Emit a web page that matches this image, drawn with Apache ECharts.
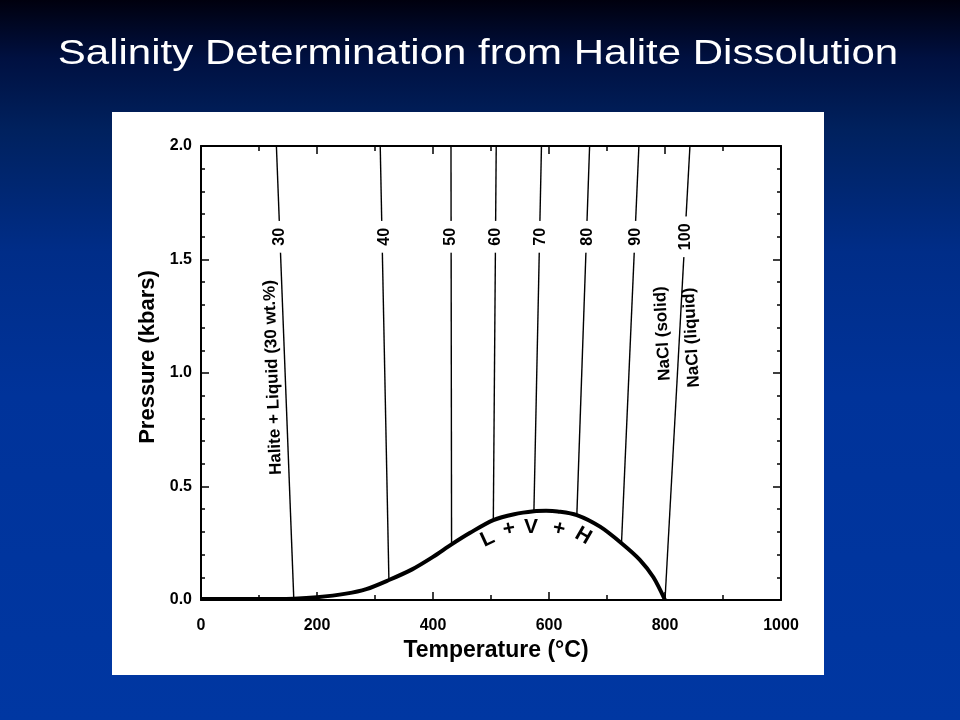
<!DOCTYPE html>
<html>
<head>
<meta charset="utf-8">
<script src="https://cdn.jsdelivr.net/npm/echarts@6/dist/echarts.min.js"></script>
<style>
html,body{margin:0;padding:0;background:#00339a;}
#chart{width:960px;height:720px;}
</style>
</head>
<body>
<div id="chart"></div>
<script>
// ---- data ----
var titleText = 'Salinity Determination from Halite Dissolution';
var xAxisName = 'Temperature (°C)';
var yAxisName = 'Pressure (kbars)';

// L + V + H curve (temperature °C, pressure kbar)
var curveT = [0, 100, 160, 200, 250, 285, 324, 364, 400, 432, 464, 504, 540, 574, 595, 615, 648, 688, 725, 757, 780, 800];
var curveP = [0.004, 0.004, 0.006, 0.012, 0.028, 0.048, 0.088, 0.135, 0.19, 0.245, 0.296, 0.352, 0.378, 0.391, 0.393, 0.39, 0.374, 0.323, 0.25, 0.176, 0.1, 0.0];

// halite dissolution isopleths (wt.% NaCl)
var isoWt      = [30, 40, 50, 60, 70, 80, 90, 100];
var isoBottomT = [160, 324, 432, 504, 574, 648, 725, 800];
var isoBottomP = [0.005, 0.088, 0.245, 0.352, 0.391, 0.374, 0.25, 0.0];
var isoTopT    = [130, 309, 431, 509, 587, 670, 755, 843];
var isoTopP    = [2.0, 2.0, 2.0, 2.0, 2.0, 2.0, 2.0, 2.0];
var isoLabelT  = [136, 316, 431, 508, 585, 666, 749, 835];
var isoLabelP  = [1.6, 1.6, 1.6, 1.6, 1.6, 1.6, 1.6, 1.6];

// text annotations
var annoText = ['Halite + Liquid (30 wt.%)', 'NaCl (solid)', 'NaCl (liquid)'];
var annoT    = [124, 796, 846];
var annoP    = [0.98, 1.174, 1.156];

var lvhText = ['L', '+', 'V', '+', 'H'];
var lvhT    = [494, 531, 569, 617, 659];
var lvhP    = [0.269, 0.313, 0.322, 0.313, 0.282];

// ---- chart ----
var FONT = '"Liberation Sans", Arial, Helvetica, sans-serif';
var chart = echarts.init(document.getElementById('chart'), null, {renderer: 'canvas'});

var series = [];
series.push({
  type: 'line',
  name: 'L+V+H',
  data: curveT.map(function (t, i) { return [t, curveP[i]]; }),
  symbol: 'none',
  smooth: 0.3,
  lineStyle: {color: '#000', width: 4},
  z: 5,
  silent: true
});
isoWt.forEach(function (w, i) {
  series.push({
    type: 'line',
    name: w + ' wt.%',
    data: [[isoBottomT[i], isoBottomP[i]], [isoTopT[i], isoTopP[i]]],
    symbol: 'none',
    lineStyle: {color: '#000', width: 1.4},
    z: 3,
    silent: true
  });
});
series.push({
  type: 'scatter',
  name: 'isoLabels',
  data: isoWt.map(function (w, i) { return {value: [isoLabelT[i], isoLabelP[i]], name: String(w)}; }),
  symbolSize: 0,
  itemStyle: {opacity: 1},
  z: 6,
  silent: true,
  label: {
    show: true,
    position: 'inside',
    rotate: 90,
    formatter: function (p) { return p.name; },
    color: '#000',
    fontFamily: FONT,
    fontWeight: 'bold',
    fontSize: 16,
    backgroundColor: '#fff',
    padding: [0, 7]
  }
});
var annoRot = [92, 93, 93];
series.push({
  type: 'scatter',
  name: 'annotations',
  data: annoText.map(function (s, i) {
    return {value: [annoT[i], annoP[i]], name: s, label: {rotate: annoRot[i]}};
  }),
  symbolSize: 0,
  itemStyle: {opacity: 1},
  z: 6,
  silent: true,
  label: {
    show: true,
    position: 'inside',
    formatter: function (p) { return p.name; },
    color: '#000',
    fontFamily: FONT,
    fontWeight: 'bold',
    fontSize: 17
  }
});
var lvhRot = [25, 12, 0, -12, -30];
series.push({
  type: 'scatter',
  name: 'LVH',
  data: lvhText.map(function (s, i) {
    return {value: [lvhT[i], lvhP[i]], name: s, label: {rotate: lvhRot[i]}};
  }),
  symbolSize: 0,
  itemStyle: {opacity: 1},
  z: 6,
  silent: true,
  label: {
    show: true,
    position: 'inside',
    formatter: function (p) { return p.name; },
    color: '#000',
    fontFamily: FONT,
    fontWeight: 'bold',
    fontSize: 21
  }
});

function xAxisCfg(pos, showLabel) {
  return {
    type: 'value', position: pos, min: 0, max: 1000, interval: 200,
    axisLine: {show: true, onZero: false, lineStyle: {color: '#000', width: 2}},
    axisTick: {show: true, inside: true, length: 8, lineStyle: {color: '#000', width: 1.5}},
    minorTick: {show: true, splitNumber: 2, length: 5, lineStyle: {color: '#000', width: 1.5}},
    splitLine: {show: false}, minorSplitLine: {show: false},
    axisLabel: {show: showLabel, margin: 18, color: '#000', fontFamily: FONT, fontWeight: 'bold', fontSize: 16,
      formatter: function (v) { return String(v); }},
    name: showLabel ? xAxisName : '',
    nameLocation: 'middle',
    nameGap: 36,
    nameTextStyle: {color: '#000', fontFamily: FONT, fontWeight: 'bold', fontSize: 23, padding: [0, 0, 0, 10]}
  };
}
function yAxisCfg(pos, showLabel) {
  return {
    type: 'value', position: pos, min: 0, max: 2, interval: 0.5,
    axisLine: {show: true, onZero: false, lineStyle: {color: '#000', width: 2}},
    axisTick: {show: true, inside: true, length: 8, lineStyle: {color: '#000', width: 1.5}},
    minorTick: {show: true, splitNumber: 5, length: 4, lineStyle: {color: '#000', width: 1.5}},
    splitLine: {show: false}, minorSplitLine: {show: false},
    axisLabel: {show: showLabel, margin: 9, color: '#000', fontFamily: FONT, fontWeight: 'bold', fontSize: 16,
      formatter: function (v) { return v.toFixed(1); }},
    name: showLabel ? yAxisName : '',
    nameLocation: 'middle',
    nameGap: 37,
    nameRotate: 90,
    nameTextStyle: {color: '#000', fontFamily: FONT, fontWeight: 'bold', fontSize: 22, padding: [0, 0, 0, 32]}
  };
}

var option = {
  animation: false,
  backgroundColor: {
    type: 'linear', x: 0, y: 0, x2: 0, y2: 1,
    colorStops: [
      {offset: 0, color: '#00000e'},
      {offset: 0.08, color: '#001040'},
      {offset: 0.18, color: '#00215e'},
      {offset: 0.35, color: '#002d88'},
      {offset: 0.55, color: '#00339a'},
      {offset: 1, color: '#0037a2'}
    ]
  },
  graphic: [
    {type: 'rect', z: -10, shape: {x: 112, y: 112, width: 712, height: 563}, style: {fill: '#ffffff'}, silent: true},
    {type: 'text', z: 10, x: 478, y: 54, scaleX: 1.2,
      style: {text: titleText, fill: '#ffffff', fontFamily: FONT, fontSize: 35, align: 'center', verticalAlign: 'middle'}}
  ],
  grid: {left: 201, right: 179, top: 146, bottom: 120, containLabel: false},
  xAxis: [xAxisCfg('bottom', true), xAxisCfg('top', false)],
  yAxis: [yAxisCfg('left', true), yAxisCfg('right', false)],
  series: series
};
chart.setOption(option);
</script>
</body>
</html>
